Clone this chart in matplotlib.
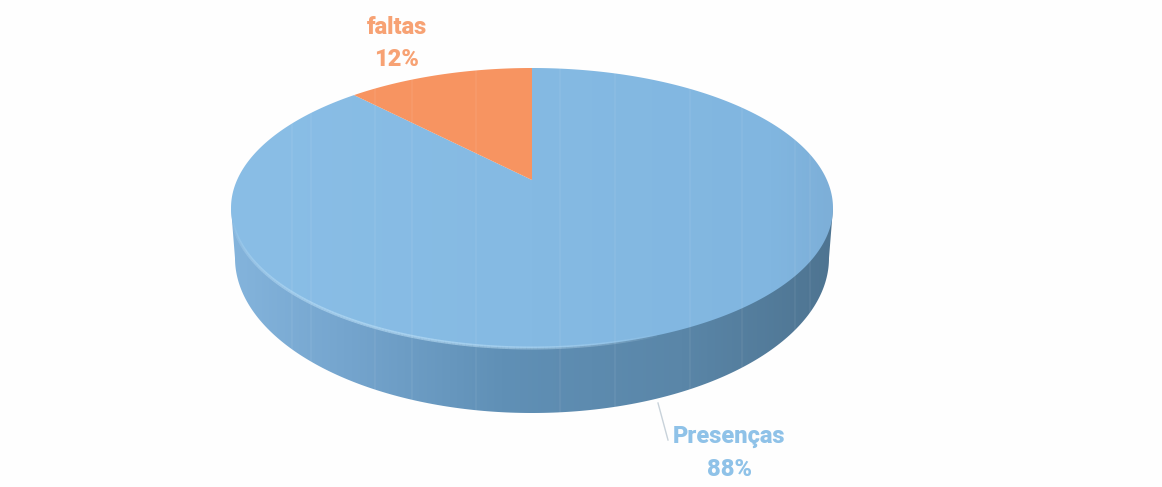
import numpy as np
import matplotlib.pyplot as plt
from matplotlib.patches import PathPatch
from matplotlib.path import Path
from matplotlib.collections import LineCollection
from matplotlib.colors import LinearSegmentedColormap

labels = ['faltas', 'Presenças']
shares = [12, 88]
colors = ['#F79461', '#86B9E2']
text_colors = ['#F7A274', '#8FC2E8']

W, H = 1162, 487
fig = plt.figure(figsize=(W / 100, H / 100), dpi=100, facecolor='#FEFEFE')
ax = fig.add_axes([0, 0, 1, 1])
ax.set_xlim(0, W)
ax.set_ylim(H, 0)
ax.axis('off')

# pie geometry in pixels, the tilt puts the centre point above the middle of the ellipse
cx, cy, rx, ry = 532, 208, 301, 140
apex_y = 180
low_cy, low_rx, low_ry = 258, 297, 155
squash = 0.448

# faint vertical streaks left by the scanner
streaks = [292, 311, 375, 412, 476, 560, 615, 690, 742, 795, 810]


def shaded(path, stops, zorder):
    patch = PathPatch(path, facecolor='none', edgecolor='none', zorder=zorder)
    ax.add_patch(patch)
    cmap = LinearSegmentedColormap.from_list('shade', stops)
    im = ax.imshow(np.linspace(0, 1, 256)[None, :], extent=[cx - rx, cx + rx, H, 0],
                   cmap=cmap, aspect='auto', zorder=zorder)
    im.set_clip_path(patch)
    return patch


def rim_angle(a):
    # where a ray from the apex at true angle a (degrees, clockwise from 12 o'clock) meets the rim
    dx = np.sin(np.radians(a))
    dy = -squash * np.cos(np.radians(a))
    oy = apex_y - cy
    qa = (dx / rx) ** 2 + (dy / ry) ** 2
    qb = 2 * oy * dy / ry ** 2
    qc = (oy / ry) ** 2 - 1
    s = (-qb + np.sqrt(qb ** 2 - 4 * qa * qc)) / (2 * qa)
    return np.arctan2(s * dx / rx, -(oy + s * dy) / ry)


# side wall, light on the left and dark on the right
t = np.linspace(0, np.pi, 200)
wall_pts = [(cx - rx, cy), (cx + rx, cy)]
wall_pts += list(zip(cx + low_rx * np.cos(t), low_cy + low_ry * np.sin(t)))
wall = Path(wall_pts + [wall_pts[0]], [Path.MOVETO] + [Path.LINETO] * (len(wall_pts) - 1) + [Path.CLOSEPOLY])
shaded(wall, [(0, '#84B4DC'), (0.2, '#74A4CD'), (0.45, '#6090B6'), (0.75, '#5A86A8'), (1, '#4E7491')], 1)

# top face, the orange slice ends at the 12 o'clock seam
split = rim_angle(-shares[0] / sum(shares) * 360)
t = np.linspace(0, 2 * np.pi + split, 400)
blue = list(zip(cx + rx * np.sin(t), cy - ry * np.cos(t)))
blue_path = Path([(cx, apex_y)] + blue + [(cx, apex_y)], [Path.MOVETO] + [Path.LINETO] * len(blue) + [Path.CLOSEPOLY])
shaded(blue_path, [(0, '#8ABEE6'), (0.5, '#85BAE3'), (0.9, '#81B6E0'), (1, '#7DAFD8')], 3)

t = np.linspace(split, 0, 60)
orange = list(zip(cx + rx * np.sin(t), cy - ry * np.cos(t)))
ax.add_patch(PathPatch(Path([(cx, apex_y)] + orange + [(cx, apex_y)],
                            [Path.MOVETO] + [Path.LINETO] * len(orange) + [Path.CLOSEPOLY]),
                       facecolor=colors[0], edgecolor='none', zorder=4))

for x in streaks:
    ax.plot([x, x], [60, 420], color='white', lw=1.2, alpha=0.06, zorder=4.5)

# soft highlight along the front left rim, fades towards the right
t = np.linspace(np.pi * 0.97, np.pi * 0.36, 160)
rim_x = cx + rx * np.cos(t)
rim_y = cy + ry * np.sin(t)
pts = np.column_stack([rim_x, rim_y]).reshape(-1, 1, 2)
segs = np.concatenate([pts[:-1], pts[1:]], axis=1)
fade = np.sin(np.linspace(0, np.pi, len(segs))) ** 0.6 * 0.6
rim = LineCollection(segs, colors=[(0.74, 0.88, 0.97, a) for a in fade], linewidths=2.2, zorder=5)
ax.add_collection(rim)

# labels
font = dict(fontsize=17, fontweight='black', family='Roboto', ha='center', va='center', zorder=6)
ax.text(397, 27, labels[0], color=text_colors[0], **font)
ax.text(397, 60, '%d%%' % shares[0], color=text_colors[0], **font)
ax.text(729, 437, labels[1], color=text_colors[1], **font)
ax.text(729, 470, '%d%%' % shares[1], color=text_colors[1], **font)

# leader line to Presenças
ax.plot([658, 668], [403, 440], color='#C8D2DA', lw=1, zorder=2)

fig.savefig('out.png', dpi=100, facecolor=fig.get_facecolor())
